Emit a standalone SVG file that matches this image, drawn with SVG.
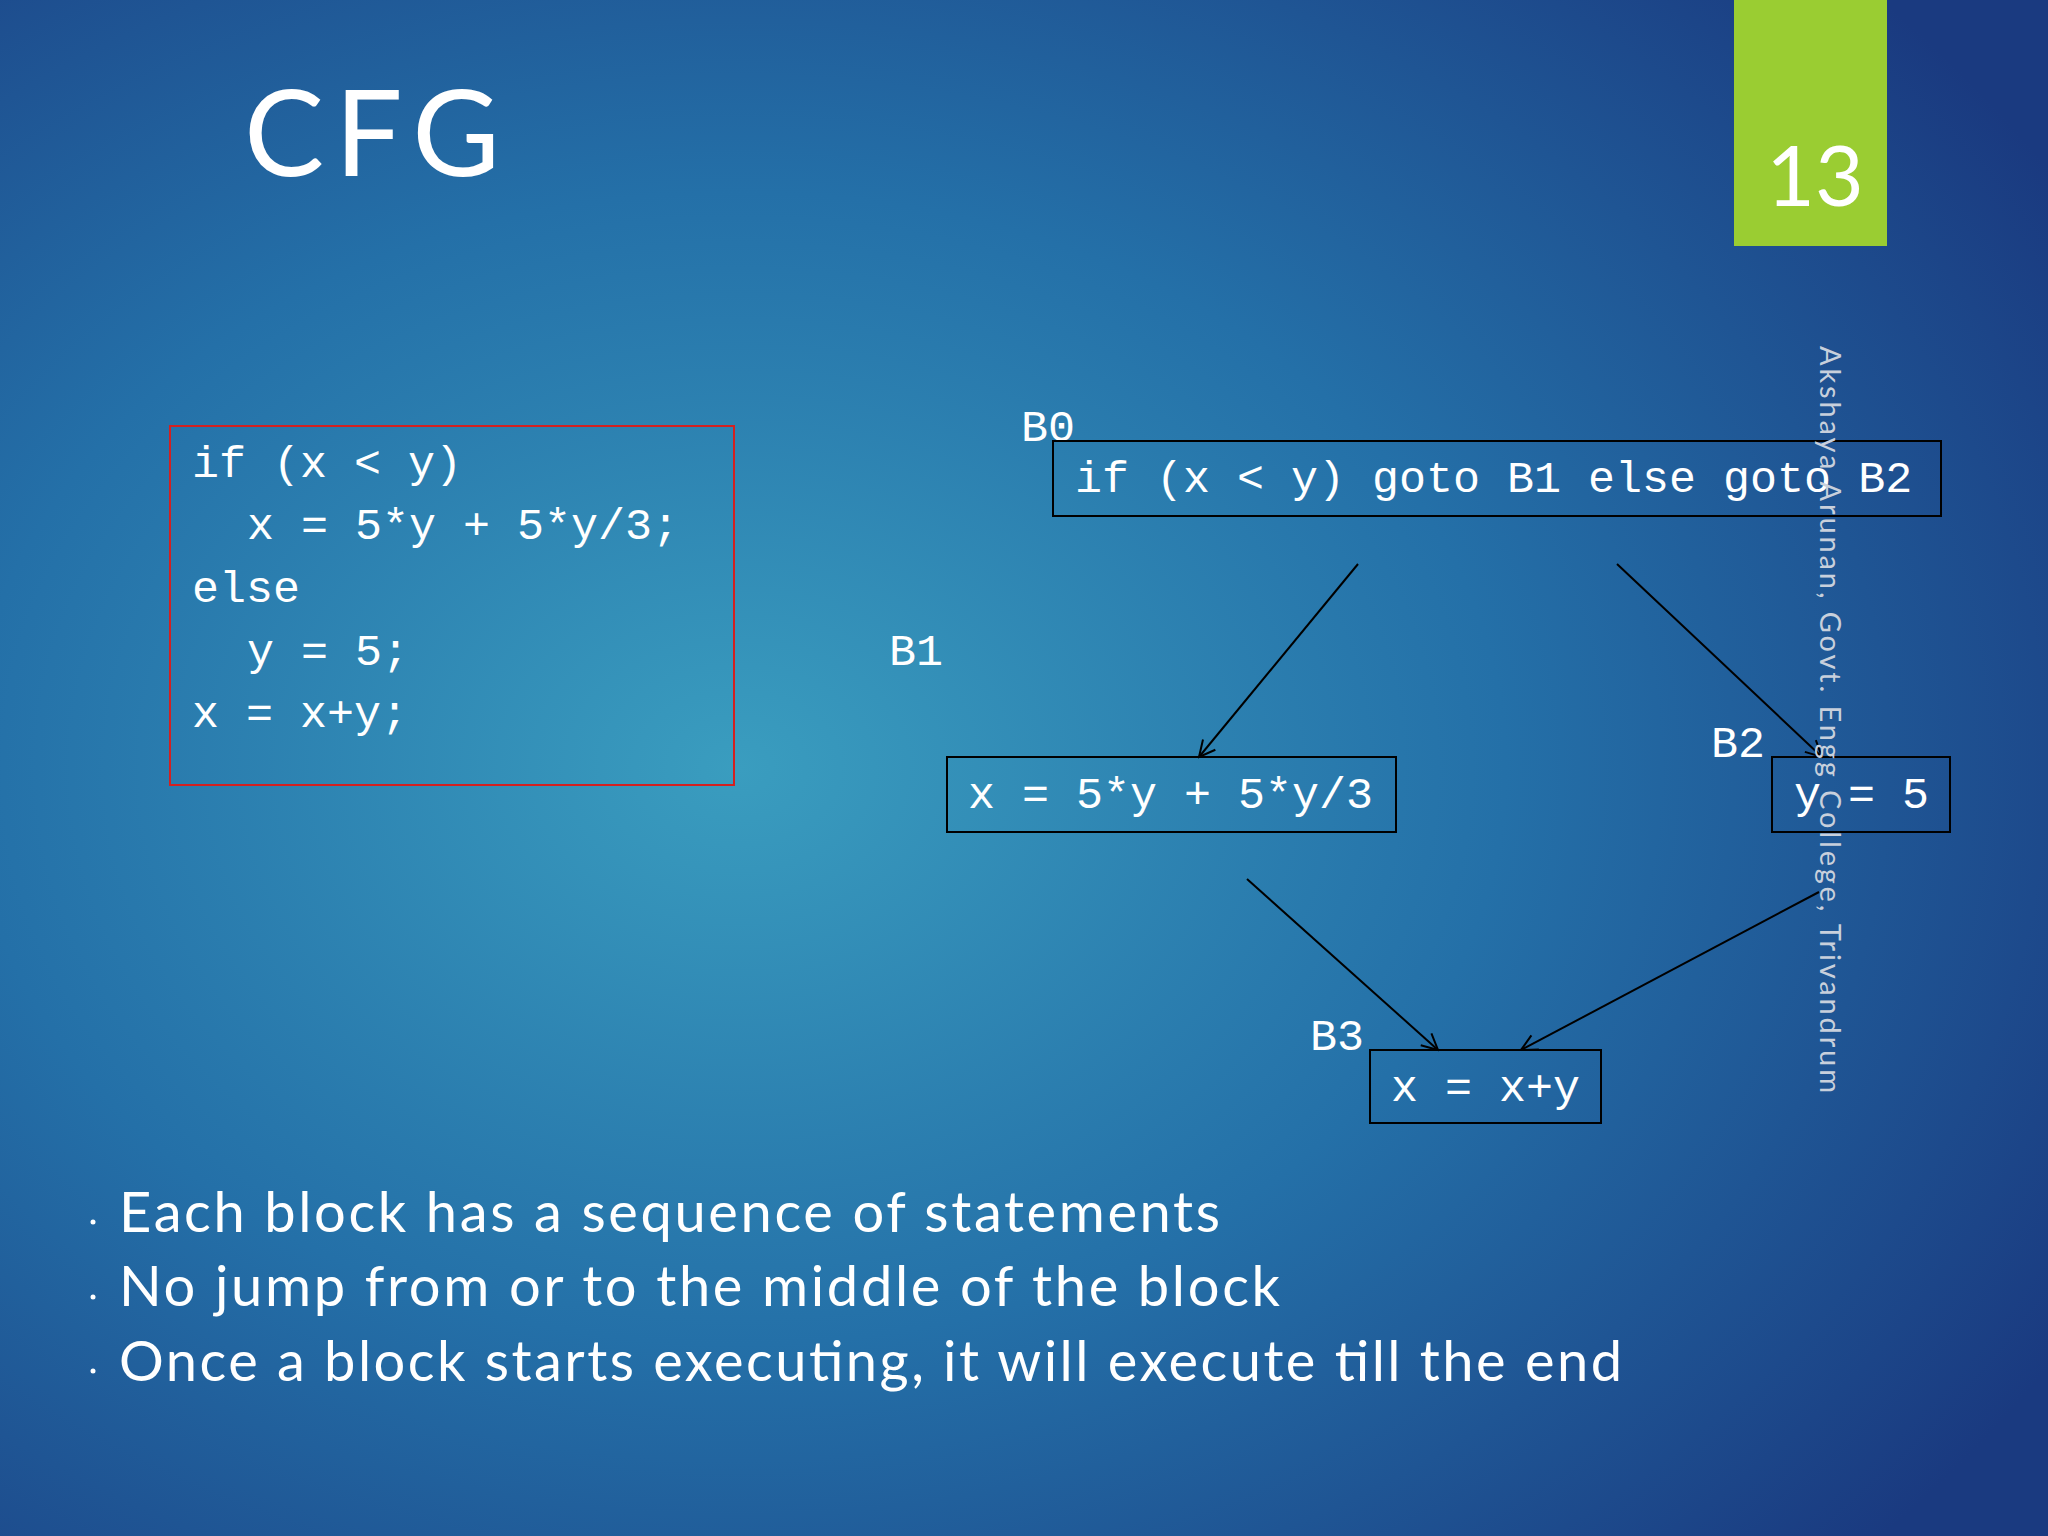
<svg xmlns="http://www.w3.org/2000/svg" width="2048" height="1536" viewBox="0 0 2048 1536">
<defs>
<radialGradient id="bg" cx="0.36" cy="0.5" r="0.75">
<stop offset="0" stop-color="#3a9dbf"/>
<stop offset="0.5" stop-color="#2470a8"/>
<stop offset="1" stop-color="#1a3a80"/>
</radialGradient>
<marker id="ah" viewBox="0 0 20 20" refX="18" refY="10" markerWidth="20" markerHeight="20" markerUnits="userSpaceOnUse" orient="auto">
<path d="M2,2 L18,10 L2,18" fill="none" stroke="#000" stroke-width="2"/>
</marker>
<style>
.mono{font-family:"Liberation Mono","DejaVu Sans Mono",monospace;font-size:45px;fill:#fff}
.box{fill:none;stroke:#000;stroke-width:2}
.edge{stroke:#000;stroke-width:2;fill:none;marker-end:url(#ah)}
.bul{font-family:"Lato","Liberation Sans",sans-serif;font-size:56px;fill:#fff}
</style>
</defs>
<rect width="2048" height="1536" fill="url(#bg)"/>
<text x="244" y="176" font-family="Lato,'Liberation Sans',sans-serif" font-size="120" fill="#fff" textLength="256">CFG</text>
<g id="page"><rect x="1734" y="0" width="153" height="246" fill="#9acd32"/>
<text x="1815" y="206" text-anchor="middle" font-family="Lato,'Liberation Sans',sans-serif" font-size="84" fill="#fff">13</text></g>
<g id="code">
<rect x="170" y="426" width="564" height="359" fill="none" stroke="#d42020" stroke-width="2"/>
<text class="mono" x="192" y="477">if (x &lt; y)</text>
<text class="mono" x="247" y="539">x = 5*y + 5*y/3;</text>
<text class="mono" x="192" y="602">else</text>
<text class="mono" x="247" y="665">y = 5;</text>
<text class="mono" x="192" y="727">x = x+y;</text>
</g>
<g id="B0"><text class="mono" x="1021" y="441">B0</text><rect class="box" x="1053" y="441" width="888" height="75"/>
<text class="mono" x="1075" y="492">if (x &lt; y) goto B1 else goto B2</text></g>
<g id="B1"><text class="mono" x="889" y="665">B1</text><rect class="box" x="947" y="757" width="449" height="75"/>
<text class="mono" x="968" y="808">x = 5*y + 5*y/3</text></g>
<g id="B2"><text class="mono" x="1711" y="757">B2</text><rect class="box" x="1772" y="757" width="178" height="75"/>
<text class="mono" x="1794" y="808">y = 5</text></g>
<g id="B3"><text class="mono" x="1310" y="1050">B3</text><rect class="box" x="1370" y="1050" width="231" height="73"/>
<text class="mono" x="1391" y="1101">x = x+y</text></g>
<g id="edges">
<line class="edge" x1="1358" y1="564" x2="1199" y2="757"/>
<line class="edge" x1="1617" y1="564" x2="1822" y2="757"/>
<line class="edge" x1="1247" y1="879" x2="1438" y2="1050"/>
<line class="edge" x1="1819" y1="892" x2="1521" y2="1050"/>
</g>
<text transform="translate(1820,346) rotate(90)" font-family="Lato,'Liberation Sans',sans-serif" font-size="29" fill="#c8d0dc" textLength="747">Akshaya Arunan, Govt. Engg College, Trivandrum</text>
<g id="bullets">
<circle cx="93" cy="1222" r="2.5" fill="#fff"/><circle cx="93" cy="1297" r="2.5" fill="#fff"/><circle cx="93" cy="1371" r="2.5" fill="#fff"/>
<text class="bul" x="119" y="1232" textLength="1101">Each block has a sequence of statements</text>
<text class="bul" x="119" y="1306" textLength="1161">No jump from or to the middle of the block</text>
<text class="bul" x="119" y="1381" textLength="1503">Once a block starts executing, it will execute till the end</text>
</g>
</svg>
